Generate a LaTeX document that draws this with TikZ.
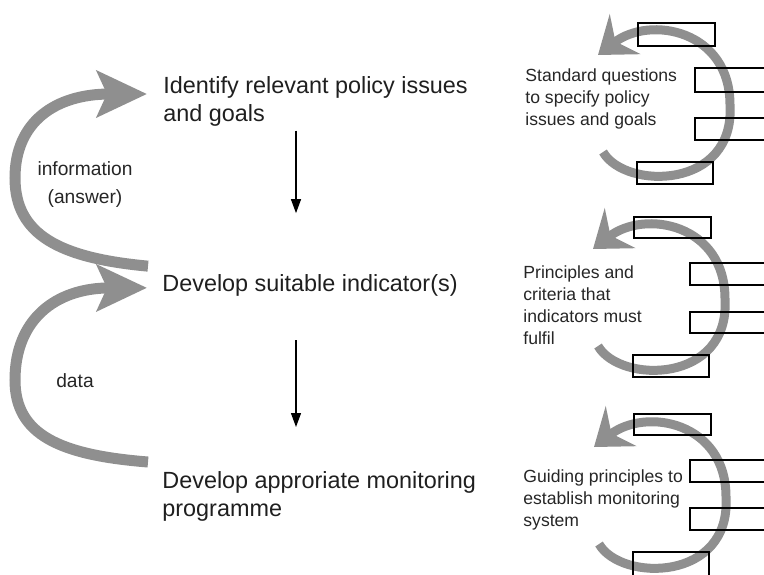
\documentclass[tikz,border=0pt]{standalone}
\usepackage{fontspec}
\setmainfont{Liberation Sans}
\usepackage{tikz}
\usetikzlibrary{arrows.meta}
\definecolor{loopgray}{gray}{0.56}

\begin{document}
\begin{tikzpicture}[x=0.5pt,y=-0.5pt,
    steplabel/.style={inner sep=0pt, align=left, text=black!88,
      font=\fontsize{11.7}{14}\selectfont},
    guidelabel/.style={anchor=north west, inner sep=0pt, align=left, text=black!85,
      font=\fontsize{8.8}{11}\selectfont},
    looplabel/.style={inner sep=0pt, align=center, text=black!85,
      font=\fontsize{9.6}{14}\selectfont},
    downflow/.style={-{Triangle[length=7pt,width=5pt]}, line width=0.6pt},
    feedback/.style={loopgray, line width=5.5pt,
      -{Stealth[length=25pt,width=23pt,inset=5pt]}},
    ringarrow/.style={loopgray, line width=4.5pt,
      -{Stealth[length=17pt,width=25pt,inset=6pt]}},
    slotbox/.style={draw, line width=0.7pt}]
      \clip (0,0) rectangle (764,574);
      % steps
      \node[steplabel, anchor=north west] (pol) at (163,76.5) {Identify relevant policy issues\\and goals};
      \node[steplabel, anchor=base west] (ind) at (162,291.5) {Develop suitable indicator(s)};
      \node[steplabel, anchor=north west] (mon) at (162,471.6) {Develop approriate monitoring\\programme};
      \coordinate (mid) at (296,0);
      \draw[downflow, shorten <=1.75pt, shorten >=30.5pt] (pol.south -| mid) -- (ind.north -| mid);
      \draw[downflow, shorten <=21.8pt, shorten >=22.3pt] (ind.south -| mid) -- (mon.north -| mid);
      % feedback loops
      \draw[feedback] ([xshift=-7pt,yshift=4pt]ind.north west) .. controls (60,258) and (15,235) .. (15,178)
        .. controls (15,122) and (55,94) .. ([xshift=-8pt,yshift=-8.75pt]pol.north west);
      \draw[feedback] ([xshift=-7pt,yshift=4.8pt]mon.north west) .. controls (60,455) and (15,435) .. (15,380)
        .. controls (15,320) and (55,288) .. ([xshift=-7.5pt,yshift=-6.85pt]ind.north west);
      \node[looplabel, anchor=north] (info) at (85,161) {information\\(answer)};
      \node[looplabel, anchor=base] (dat) at (75,387) {data};
      % guidance cycles
      \draw[ringarrow] (603,152) .. controls (625,190) and (735,190) .. (730,105)
        .. controls (730,30) and (650,15) .. (598,55);
      \draw[slotbox] (638,23) rectangle (715,46);
      \draw[slotbox] (695,68) rectangle (770,92);
      \draw[slotbox] (695,118) rectangle (770,140);
      \draw[slotbox] (637,162) rectangle (713,184);
      \node[guidelabel] (std) at (525,68.3) {Standard questions\\to specify policy\\issues and goals};
      \begin{scope}[shift={(-5,194)}]
        \draw[ringarrow] (603,152) .. controls (625,190) and (735,190) .. (730,105)
          .. controls (730,30) and (650,15) .. (598,55);
        \draw[slotbox] (639,23) rectangle (716,44);
        \draw[slotbox] (695,69) rectangle (770,91);
        \draw[slotbox] (695,118) rectangle (770,139);
        \draw[slotbox] (638,161) rectangle (714,183);
      \end{scope}
      \node[guidelabel] (crit) at (523,265.6) {Principles and\\criteria that\\indicators must\\fulfil};
      \begin{scope}[shift={(-4,392)}]
        \draw[ringarrow] (603,152) .. controls (625,190) and (735,190) .. (730,105)
          .. controls (730,30) and (650,15) .. (598,55);
        \draw[slotbox] (638,22) rectangle (715,43);
        \draw[slotbox] (694,68) rectangle (770,90);
        \draw[slotbox] (694,116) rectangle (770,138);
        \draw[slotbox] (637,160) rectangle (713,190);
      \end{scope}
      \node[guidelabel] (sys) at (523,469) {Guiding principles to\\establish monitoring\\system};
    \end{tikzpicture}
\end{document}
